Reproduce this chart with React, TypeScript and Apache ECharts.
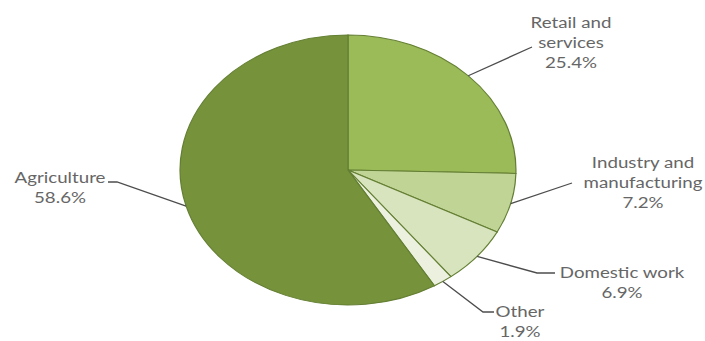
import React, { useEffect, useRef } from "react";
import * as echarts from "echarts";

const categories = ["Retail and\nservices", "Industry and\nmanufacturing", "Domestic work", "Other", "Agriculture"];
const values = [25.4, 7.2, 6.9, 1.9, 58.6];
const percentLabels = ["25.4%", "7.2%", "6.9%", "1.9%", "58.6%"];

const colors = ["#9BBB59", "#C0D496", "#D7E4BD", "#EBF1DE", "#76933C"];

// label layout: elbow points (after the edge point) and text centre
const labelElbows: number[][][] = [
  [[532, 47]],
  [[572, 183]],
  [[537, 273], [555, 273]],
  [[483, 312], [494, 312]],
  [[117, 182], [108, 182]],
];
const labelCentres: number[][] = [
  [571, 42],
  [643, 182],
  [622, 282],
  [520, 321],
  [60, 187],
];

const CX = 348;
const CY = 170;
const RX = 168;
const RY = 135;
const SX = RX / RY;
const TEXT_SX = 1.17;

export default function App() {
  const ref = useRef<HTMLDivElement>(null);
  useEffect(() => {
    if (!ref.current) return;
    const chart = echarts.init(ref.current, null, { renderer: "svg" });
    const total = values.reduce((a, b) => a + b, 0);
    let acc = 0;
    const data = values.map((v) => {
      const s = acc / total;
      acc += v;
      return [s, acc / total, v];
    });
    chart.setOption({
      animation: false,
      backgroundColor: "#ffffff",
      series: [
        {
          type: "custom",
          coordinateSystem: "none",
          silent: true,
          data,
          renderItem: (params: any, api: any) => {
            const i = params.dataIndex;
            const s = api.value(0);
            const e = api.value(1);
            const a0 = s * Math.PI * 2 - Math.PI / 2;
            const a1 = e * Math.PI * 2 - Math.PI / 2;
            const am = (a0 + a1) / 2;
            const ex = CX + RX * Math.cos(am);
            const ey = CY + RY * Math.sin(am);
            const pts = [[ex, ey], ...labelElbows[i]];
            return {
              type: "group",
              children: [
                {
                  type: "group",
                  x: CX,
                  y: CY,
                  scaleX: SX,
                  children: [
                    {
                      type: "sector",
                      shape: { cx: 0, cy: 0, r0: 0, r: RY, startAngle: a0, endAngle: a1, clockwise: true },
                      style: { fill: colors[i], stroke: "#647F33", lineWidth: 1, strokeNoScale: true },
                    },
                  ],
                },
                {
                  type: "polyline",
                  shape: { points: pts },
                  style: { stroke: "#4d4d4d", lineWidth: 1.3, fill: null },
                  z2: 10,
                },
                {
                  type: "group",
                  x: labelCentres[i][0],
                  y: labelCentres[i][1],
                  scaleX: TEXT_SX,
                  children: [
                    {
                      type: "text",
                      style: {
                        text: categories[i] + "\n" + percentLabels[i],
                        x: 0,
                        y: 0,
                        align: "center",
                        verticalAlign: "middle",
                        fontFamily: "Lato",
                        fontSize: 16,
                        lineHeight: 20,
                        fill: "#666666",
                      },
                      z2: 11,
                    },
                  ],
                },
              ],
            };
          },
        },
      ],
    });
    return () => chart.dispose();
  }, []);
  return (
    <div
      ref={ref}
      style={{ position: "absolute", left: 0, top: 0, width: 705, height: 341 }}
    />
  );
}
